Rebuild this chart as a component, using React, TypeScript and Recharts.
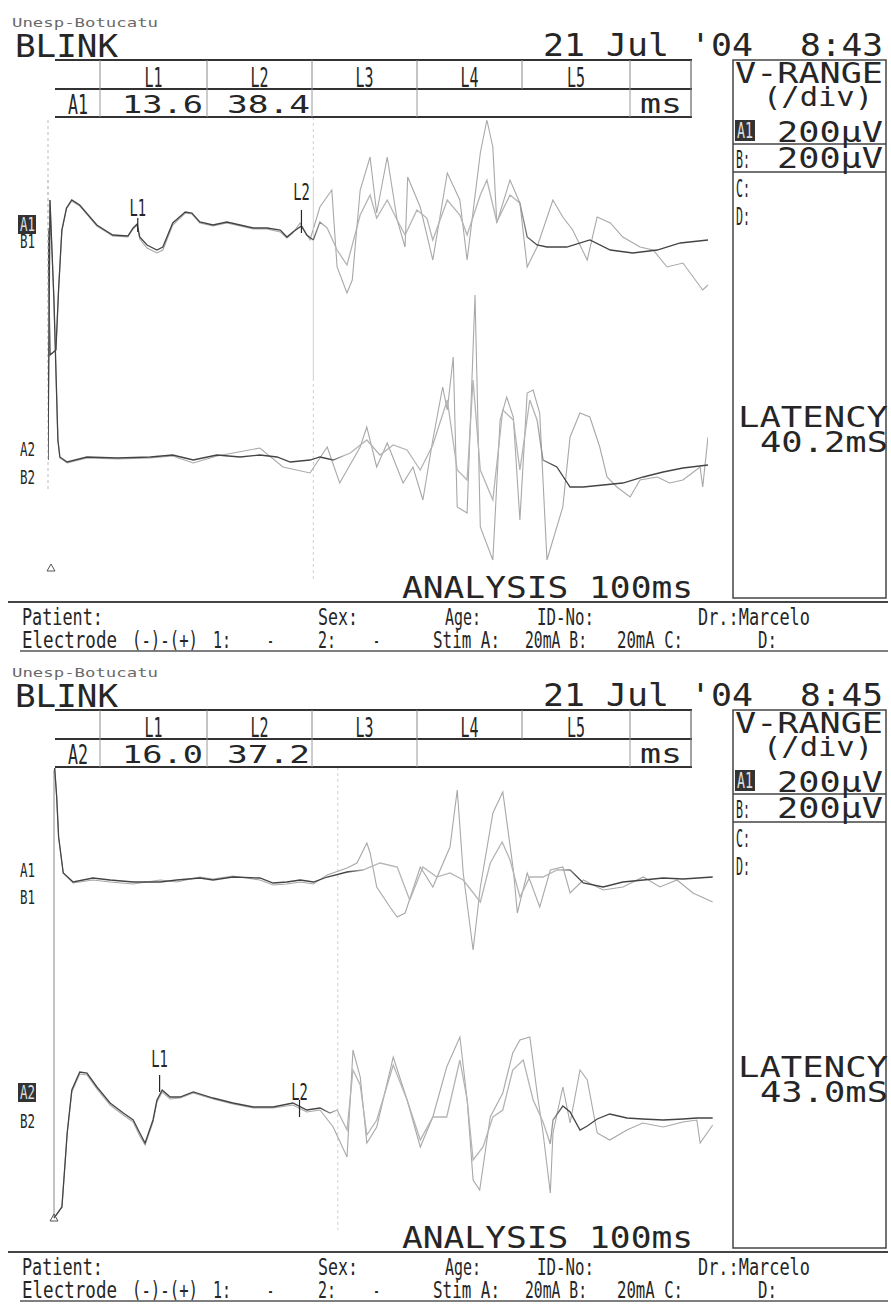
import React from 'react'
import { LineChart, Line, XAxis, YAxis, ReferenceLine } from 'recharts'

// two blink-reflex sweeps, 100 ms each; values are [ms, µV]
const sessions = ['8:43', '8:45']
const rowLabels = ['A1', 'A2']
const colLabels = ['L1', 'L2', 'L3', 'L4', 'L5']
const l1Latency = [13.6, 16.0]
const l2Latency = [38.4, 37.2]
const latency = [40.2, 43.0]
const rangeUv = [200, 200]

const p1A1 = [
  [0, 0], [0.3, -635], [1.2, -610], [1.6, -310], [2.1, -10], [2.8, 100], [3.6, 140], [4.8, 115],
  [7.4, 15], [9.8, -35], [12.1, -40], [12.9, 0], [13.5, 20], [13.9, -45], [15.0, -85], [16.5, -110],
  [17.4, -95], [18.9, 25], [20.8, 80], [21.8, 75], [23.0, 30], [25.0, 15], [27.1, 30], [29.1, 15],
  [31.1, 0], [33.2, 0], [35.2, -10], [36.2, -45], [37.1, -20], [38.4, 10], [39.2, -35], [40.2, -60],
  [41.2, 30], [42.3, 0], [43.8, -110], [45.3, -185], [47.3, 65], [48.8, 165], [49.8, 50], [51.4, 140],
  [52.9, 40], [54.1, -35], [55.9, 90], [57.4, 50], [58.3, -60], [60.5, 140], [62.4, 65], [63.5, -35],
  [65.5, 165], [66.5, 240], [68.0, 30], [70.0, 165], [71.5, 125], [72.6, -45], [74.1, -85], [75.6, -95],
  [78.6, -95], [82.1, -60], [85.2, -110], [88.6, -125], [92.3, -110], [95.8, -75], [100, -60],
]
const p1B1 = [
  [0, 0], [0.3, -635], [1.2, -610], [1.6, -310], [2.1, -15], [2.8, 95], [3.6, 135], [4.8, 110],
  [7.4, 10], [9.8, -40], [12.1, -45], [12.9, -5], [13.5, 15], [13.9, -55], [15.0, -100], [16.5, -125],
  [17.4, -110], [18.9, 15], [20.8, 75], [21.8, 70], [23.0, 25], [25.0, 10], [27.1, 25], [29.1, 10],
  [31.1, -5], [33.2, -5], [35.2, -20], [36.2, -50], [37.1, -25], [38.2, 25], [39.7, -60], [41.2, 105],
  [43.0, 190], [43.8, -195], [45.3, -325], [46.1, -260], [47.3, 190], [48.8, 355], [49.8, 75], [51.4, 355],
  [52.9, 40], [54.1, -95], [54.5, 255], [56.4, 105], [58.3, -160], [60.5, 275], [62.4, 140], [63.5, -160],
  [65.5, 375], [66.5, 540], [67.4, 405], [68.0, 25], [70.0, 240], [71.5, 125], [72.6, -195], [74.1, -95],
  [76.5, 140], [78.0, 55], [79.5, -10], [81.7, -160], [83.2, 55], [85.2, 25], [87.1, -45], [89.7, -95],
  [91.7, -110], [93.8, -195], [96.2, -175], [99.2, -310], [100, -285],
]
const p1A2 = [
  [0, 0], [0.3, 1300], [0.9, 800], [1.5, 100], [1.8, 15], [2.9, -10], [5.9, 15], [10.5, 10],
  [15.5, 15], [18.9, 25], [22.0, 0], [25.6, 25], [29.1, 15], [32.1, 25], [34.7, 15], [36.7, -10],
  [39.7, 0], [41.2, 15], [43.2, 0], [45.8, 35], [48.3, 100], [50.3, 25], [52.3, 75], [54.4, 50],
  [56.4, -50], [58.3, 75], [60.5, 300], [62.0, -50], [63.5, -100], [64.4, 400], [65.5, -50], [67.4, -200],
  [68.9, 250], [70.5, 200], [71.5, -50], [73.0, 300], [74.1, 200], [75.0, 0], [77.1, -35], [79.1, -135],
  [81.1, -135], [84.1, -125], [87.1, -115], [90.2, -85], [93.2, -60], [96.2, -40], [100, -25],
]
const p1B2 = [
  [0, 0], [0.3, 1300], [0.9, 800], [1.5, 100], [1.8, 10], [2.9, -15], [5.9, 10], [10.5, 5],
  [15.5, 10], [18.9, 20], [22.0, -15], [25.6, 20], [32.1, 60], [35.6, -35], [39.7, -65], [42.3, 65],
  [44.2, -115], [47.3, 65], [48.3, 165], [49.8, -35], [51.4, 85], [53.8, -115], [55.3, -35], [56.8, -200],
  [58.3, 100], [59.8, 365], [60.5, 250], [61.4, 515], [62.0, -235], [63.5, -265], [64.7, 825], [65.5, -335],
  [67.4, -500], [68.5, 200], [69.5, 315], [70.5, 215], [71.5, -300], [72.6, 335], [73.5, 350], [74.5, 235],
  [75.6, -500], [78.0, -235], [79.1, 115], [80.6, 235], [82.1, 215], [83.6, 65], [84.7, -85], [86.2, -135],
  [88.2, -185], [89.7, -100], [92.3, -85], [94.2, -115], [96.2, -100], [98.8, -35], [99.2, -135], [100, 115],
]
const p2A1 = [
  [0.1, 560], [0.4, 420], [0.7, 215], [1.4, 35], [2.9, -10], [5.9, 10], [8.5, 0], [12.0, -10],
  [16.1, -10], [18.6, 0], [22.1, 10], [24.1, 0], [27.1, 15], [31.2, 10], [33.2, -15], [35.3, -10],
  [37.3, 0], [39.3, -10], [41.4, 15], [44.4, 40], [46.8, 50], [49.4, 85], [52.0, 65], [53.9, -100],
  [55.9, 65], [58.0, 15], [60.0, 35], [62.0, 0], [64.6, -110], [66.1, 85], [67.9, 190], [69.1, 100],
  [70.6, -85], [72.1, 15], [74.1, 15], [76.2, 50], [78.2, 50], [80.2, -15], [83.2, -35], [86.2, -10],
  [89.3, 0], [92.3, 10], [95.3, 5], [99.8, 15],
]
const p2B1 = [
  [0.1, 560], [0.4, 420], [0.7, 215], [1.4, 35], [2.9, -15], [5.9, 0], [8.5, -10], [12.0, -20],
  [16.1, 0], [18.6, -10], [22.1, 15], [24.1, 5], [27.1, 20], [31.2, 0], [33.2, -25], [35.3, -20],
  [37.3, -10], [39.3, -20], [41.4, 25], [44.4, 60], [45.9, 85], [47.4, 185], [47.9, 135], [48.9, -35],
  [50.9, -135], [52.0, -185], [53.2, -165], [55.5, 65], [57.4, -35], [60.0, 165], [61.1, 450], [62.0, 35],
  [63.5, -350], [64.6, -35], [66.5, 335], [68.0, 440], [69.6, 50], [70.2, -165], [71.7, 35], [73.6, -135],
  [75.2, 50], [77.1, 65], [78.2, -65], [80.2, 0], [83.2, -50], [86.2, -35], [89.3, 15], [91.8, -35],
  [94.4, 0], [96.8, -65], [99.8, -110],
]
const p2A2 = [
  [0, -590], [1.2, -535], [2.0, -165], [2.7, 50], [3.9, 140], [5.0, 135], [6.5, 65], [8.5, -15],
  [10.5, -65], [12.0, -100], [13.0, -165], [13.8, -215], [15.0, -100], [15.6, 0], [16.4, 50], [17.6, 15],
  [19.1, 15], [21.1, 40], [24.1, 10], [27.1, -15], [30.2, -35], [33.2, -35], [36.2, -15], [38.3, -50],
  [40.3, -40], [41.8, -65], [42.9, -50], [44.4, -150], [45.3, 150], [46.4, 75], [47.4, -175], [48.9, -100],
  [51.4, 175], [53.5, 0], [55.5, -200], [57.4, -85], [59.5, -85], [61.5, 200], [62.6, 0], [63.5, -300],
  [65.0, -235], [66.5, -85], [68.0, -50], [69.5, 150], [71.1, 200], [72.6, 0], [74.1, -110], [75.2, -220],
  [75.6, -100], [77.1, -30], [78.2, -60], [79.7, -150], [80.8, -130], [82.3, -95], [84.2, -70], [86.8, -90],
  [89.2, -95], [92.3, -100], [95.3, -95], [97.4, -90], [99.8, -90],
]
const p2B2 = [
  [0, -590], [1.2, -535], [2.0, -165], [2.7, 40], [3.9, 130], [5.0, 125], [6.5, 55], [8.5, -25],
  [10.5, -75], [12.0, -110], [13.0, -180], [13.8, -225], [15.0, -110], [15.6, -10], [16.4, 40], [17.6, 5],
  [19.1, 10], [21.1, 35], [24.1, 5], [27.1, -20], [30.2, -40], [33.2, -40], [36.2, -25], [38.3, -60],
  [40.3, -50], [42.3, -135], [44.4, -285], [45.3, 250], [46.4, 115], [47.4, -215], [48.9, -135], [51.4, 215],
  [53.5, 0], [55.5, -235], [57.4, -85], [59.5, 165], [61.5, 315], [62.6, 0], [63.5, -400], [64.5, -450],
  [66.1, -85], [68.0, 35], [69.5, 235], [70.6, 300], [72.1, 315], [73.2, 35], [74.1, -165], [75.2, -465],
  [75.6, -165], [77.1, 65], [78.2, -115], [79.7, 150], [80.8, 100], [82.3, -165], [84.2, -200], [86.8, -150],
  [89.2, -115], [92.3, -135], [95.3, -110], [97.4, -100], [97.9, -215], [99.8, -125],
]

const MONO = '"DejaVu Sans Mono", "Liberation Mono", monospace'
const INK = '#262626'
const PEN = '#444'
const PEN_FAST = '#b4b4b4'

const pts = (arr: number[][]) => arr.map(([t, uv]) => ({ t, uv }))

// one <text> per block of stacked lines; each line stretched to its printed width,
// sy stretches the whole block vertically for the tall narrow printer face
type Ln = { x: number; y: number; s: number; w: number; str: string; fill?: string }
const Block = ({ lines, fill = INK, sy = 1 }: { lines: Ln[]; fill?: string; sy?: number }) => (
  <g transform={sy === 1 ? undefined : `scale(1,${sy})`}>
    <text fontFamily={MONO} fill={fill}>
      {lines.map((l, k) => (
        <tspan key={k} x={l.x} y={l.y / sy} fontSize={l.s} fill={l.fill} textLength={l.w} lengthAdjust="spacingAndGlyphs">
          {l.str}
        </tspan>
      ))}
    </text>
  </g>
)

const MarkLabel = (props: any) => {
  const vb = props.viewBox || {}
  const x = (vb.x ?? props.x ?? 0) + (vb.width || 0) / 2
  const y = (vb.y ?? props.y ?? 0) - (props.dy ?? 3)
  return (
    <text transform={`translate(${x},${y}) scale(0.6,1)`} textAnchor="middle" fontSize={23} fontFamily={MONO} fill={INK}>
      {props.text}
    </text>
  )
}

type Mark = { t: number; y1: number; y2: number; text: string; dy: number }
type PairProps = {
  id: string
  x0: number
  top: number
  height: number
  domain: [number, number]
  a: number[][]
  b: number[][]
  burst: [number, number] // ms range where the pen moves fast and prints faint
  marks?: Mark[]
  cursor: number
  cursorTop?: number
  axisTop?: number
  axisBottom?: number
  axisColor: string
  axisDash?: string
}

function TracePair(p: PairProps) {
  const [lo, hi] = p.domain
  const [f0, f1] = p.burst
  return (
    <div style={{ position: 'absolute', left: p.x0 - 10, top: p.top }}>
      <LineChart width={680} height={p.height} margin={{ top: 0, right: 10, bottom: 0, left: 10 }}>
        <defs>
          <linearGradient id={p.id} x1="0" y1="0" x2="1" y2="0">
            <stop offset={0} stopColor={PEN} />
            <stop offset={(f0 - 1.5) / 100} stopColor={PEN} />
            <stop offset={(f0 + 1) / 100} stopColor={PEN_FAST} />
            <stop offset={(f1 - 1) / 100} stopColor={PEN_FAST} />
            <stop offset={(f1 + 1.5) / 100} stopColor={PEN} />
            <stop offset={1} stopColor={PEN} />
          </linearGradient>
        </defs>
        <XAxis type="number" dataKey="t" domain={[0, 100]} hide allowDataOverflow />
        <YAxis type="number" domain={[lo, hi]} hide allowDataOverflow />
        <ReferenceLine
          segment={[{ x: 0, y: p.axisTop ?? hi }, { x: 0, y: p.axisBottom ?? lo }]}
          stroke={p.axisColor}
          strokeDasharray={p.axisDash}
        />
        <ReferenceLine
          segment={[{ x: p.cursor, y: p.cursorTop ?? hi }, { x: p.cursor, y: lo }]}
          stroke="#d0d0d0"
          strokeDasharray="3 3"
        />
        <Line data={pts(p.b)} dataKey="uv" type="linear" stroke="#a8a8a8" strokeWidth={1.1} dot={false} activeDot={false} isAnimationActive={false} />
        <Line data={pts(p.a)} dataKey="uv" type="linear" stroke={`url(#${p.id})`} strokeWidth={1.3} dot={false} activeDot={false} isAnimationActive={false} />
        {(p.marks || []).map((m) => (
          <ReferenceLine
            key={m.text}
            segment={[{ x: m.t, y: m.y1 }, { x: m.t, y: m.y2 }]}
            stroke={INK}
            strokeWidth={1.2}
            label={<MarkLabel text={m.text} dy={m.dy} />}
          />
        ))}
      </LineChart>
    </div>
  )
}

const colEdges = [100, 207, 312, 417, 522, 630]
const rowEdges = [100, 207, 312, 417, 630]
const sideLabels = [
  { a1: 231, b1: 248, a2: 456, b2: 484 },
  { a1: 227, b1: 254, a2: 449, b2: 478 },
]

function Sheet({ i }: { i: number }) {
  const o = i * 650
  const lab = sideLabels[i]
  const inv = i === 0 ? lab.a1 : lab.a2
  const footer: Ln[] = [
    { x: 22, y: 625, s: 17, w: 81, str: 'Patient:' },
    { x: 318, y: 625, s: 17, w: 40, str: 'Sex:' },
    { x: 445, y: 625, s: 17, w: 36, str: 'Age:' },
    { x: 537, y: 625, s: 17, w: 57, str: 'ID-No:' },
    { x: 698, y: 625, s: 17, w: 112, str: 'Dr.:Marcelo' },
    { x: 22, y: 648, s: 17, w: 95, str: 'Electrode' },
    { x: 132, y: 648, s: 17, w: 66, str: '(-)-(+)' },
    { x: 213, y: 648, s: 17, w: 18, str: '1:' },
    { x: 267, y: 648, s: 17, w: 7, str: '-' },
    { x: 318, y: 648, s: 17, w: 18, str: '2:' },
    { x: 373, y: 648, s: 17, w: 7, str: '-' },
    { x: 433, y: 648, s: 17, w: 67, str: 'Stim A:' },
    { x: 525, y: 648, s: 17, w: 62, str: '20mA B:' },
    { x: 617, y: 648, s: 17, w: 66, str: '20mA C:' },
    { x: 758, y: 648, s: 17, w: 19, str: 'D:' },
  ]
  const table: Ln[] = [
    ...colLabels.map((c, k) => ({ x: (colEdges[k] + colEdges[k + 1]) / 2 - 9, y: 87, s: 27, w: 18, str: c })),
    { x: 68, y: 114, s: 26, w: 20, str: rowLabels[i] },
    { x: 122, y: 113, s: 25, w: 81, str: l1Latency[i].toFixed(1) },
    { x: 227, y: 113, s: 25, w: 83, str: l2Latency[i].toFixed(1) },
    { x: 640, y: 113, s: 27, w: 42, str: 'ms' },
  ]
  const rangeBox: Ln[] = [
    { x: 735, y: 83, s: 27.5, w: 148, str: 'V-RANGE' },
    { x: 763, y: 106, s: 27, w: 110, str: '(/div)' },
    { x: 737, y: 138, s: 21, w: 16, str: 'A1', fill: '#ddd' },
    { x: 777, y: 142, s: 27.5, w: 106, str: `${rangeUv[0]}μV` },
    { x: 736, y: 168, s: 24, w: 14, str: 'B:' },
    { x: 777, y: 168, s: 27.5, w: 106, str: `${rangeUv[1]}μV` },
    { x: 736, y: 197, s: 24, w: 14, str: 'C:' },
    { x: 736, y: 225, s: 24, w: 14, str: 'D:' },
  ]
  const lat: Ln[] = [
    { x: 738, y: 427, s: 27.5, w: 150, str: 'LATENCY' },
    { x: 760, y: 452, s: 27.5, w: 128, str: `${latency[i].toFixed(1)}mS` },
  ]
  return (
    <g transform={`translate(0,${o})`}>
      <Block
        lines={[
          { x: 12, y: 27, s: 13, w: 146, str: 'Unesp-Botucatu', fill: '#6a6a6a' },
          { x: 15, y: 57, s: 32, w: 103, str: 'BLINK' },
          { x: 543, y: 56, s: 32, w: 210, str: "21 Jul '04" },
          { x: 800, y: 56, s: 32, w: 83, str: sessions[i] },
        ]}
      />

      {/* latency table */}
      {[60, 89, 117].map((y) => (
        <line key={y} x1={55} x2={692} y1={y} y2={y} stroke="#333" strokeWidth={2} />
      ))}
      {colEdges.map((x) => (
        <line key={'c' + x} x1={x} x2={x} y1={60} y2={89} stroke="#8a8a8a" strokeWidth={1} />
      ))}
      {rowEdges.map((x) => (
        <line key={'r' + x} x1={x} x2={x} y1={89} y2={117} stroke="#9a9a9a" strokeWidth={1} />
      ))}
      <line x1={691} x2={691} y1={60} y2={117} stroke="#666" strokeWidth={1.2} />
      <Block lines={table} />

      {/* range box */}
      <rect x={733} y={60} width={153} height={538} fill="none" stroke="#444" strokeWidth={1.5} />
      <rect x={735} y={120} width={20} height={21} fill="#333" />
      <line x1={733} x2={886} y1={144} y2={144} stroke="#444" strokeWidth={1.5} />
      <line x1={733} x2={886} y1={172} y2={172} stroke="#444" strokeWidth={1.5} />
      <Block lines={rangeBox} />
      <Block lines={lat} />

      {/* channel labels */}
      <rect x={18} y={inv - 16} width={18} height={19} fill="#333" />
      <Block
        lines={[
          { x: 20, y: lab.a1, s: 20, w: 15, str: 'A1', fill: i === 0 ? '#ddd' : INK },
          { x: 20, y: lab.b1, s: 20, w: 15, str: 'B1' },
        ]}
      />
      <Block
        lines={[
          { x: 20, y: lab.a2, s: 20, w: 15, str: 'A2', fill: i === 1 ? '#ddd' : INK },
          { x: 20, y: lab.b2, s: 20, w: 15, str: 'B2' },
        ]}
      />
      <polygon points={`${47 + i * 3},571 ${51 + i * 3},564 ${55 + i * 3},571`} fill="none" stroke="#555" strokeWidth={1} />

      <Block lines={[{ x: 402, y: 598, s: 31, w: 291, str: 'ANALYSIS 100ms' }]} />
      <line x1={8} x2={888} y1={602} y2={602} stroke="#444" strokeWidth={2} />
      <Block lines={footer} sy={1.35} />
      <line x1={20} x2={888} y1={651} y2={651} stroke="#555" strokeWidth={1.3} />
    </g>
  )
}

export default function App() {
  return (
    <div style={{ position: 'absolute', left: 0, top: 0, width: 891, height: 1304, background: '#fff', overflow: 'hidden' }}>
      <TracePair
        id="pen1a" x0={48} top={100} height={280} domain={[-760, 640]} a={p1A1} b={p1B1} burst={[41, 72]}
        cursor={latency[0]} cursorTop={555} axisTop={540} axisColor="#bdbdbd" axisDash="3 3"
        marks={[
          { t: l1Latency[0], y1: -20, y2: 50, text: 'L1', dy: 2 },
          { t: l2Latency[0], y1: -25, y2: 90, text: 'L2', dy: 10 },
        ]}
      />
      <TracePair
        id="pen1b" x0={48} top={180} height={400} domain={[-600, 1400]} a={p1A2} b={p1B2} burst={[44, 75]}
        cursor={latency[0]} axisBottom={-150} axisColor="#bdbdbd" axisDash="3 3"
      />
      <TracePair
        id="pen2a" x0={54} top={760} height={240} domain={[-600, 600]} a={p2A1} b={p2B1} burst={[46, 78]}
        cursor={latency[1]} cursorTop={565} axisTop={550} axisColor="#8a8a8a"
      />
      <TracePair
        id="pen2b" x0={54} top={1000} height={230} domain={[-650, 500]} a={p2A2} b={p2B2} burst={[42, 76]}
        cursor={latency[1]} axisBottom={-590} axisColor="#8a8a8a"
        marks={[
          { t: l1Latency[1], y1: 40, y2: 125, text: 'L1', dy: 8 },
          { t: l2Latency[1], y1: -85, y2: 0, text: 'L2', dy: 0 },
        ]}
      />
      <svg width={891} height={1304} style={{ position: 'absolute', left: 0, top: 0, pointerEvents: 'none' }}>
        <Sheet i={0} />
        <Sheet i={1} />
      </svg>
    </div>
  )
}
